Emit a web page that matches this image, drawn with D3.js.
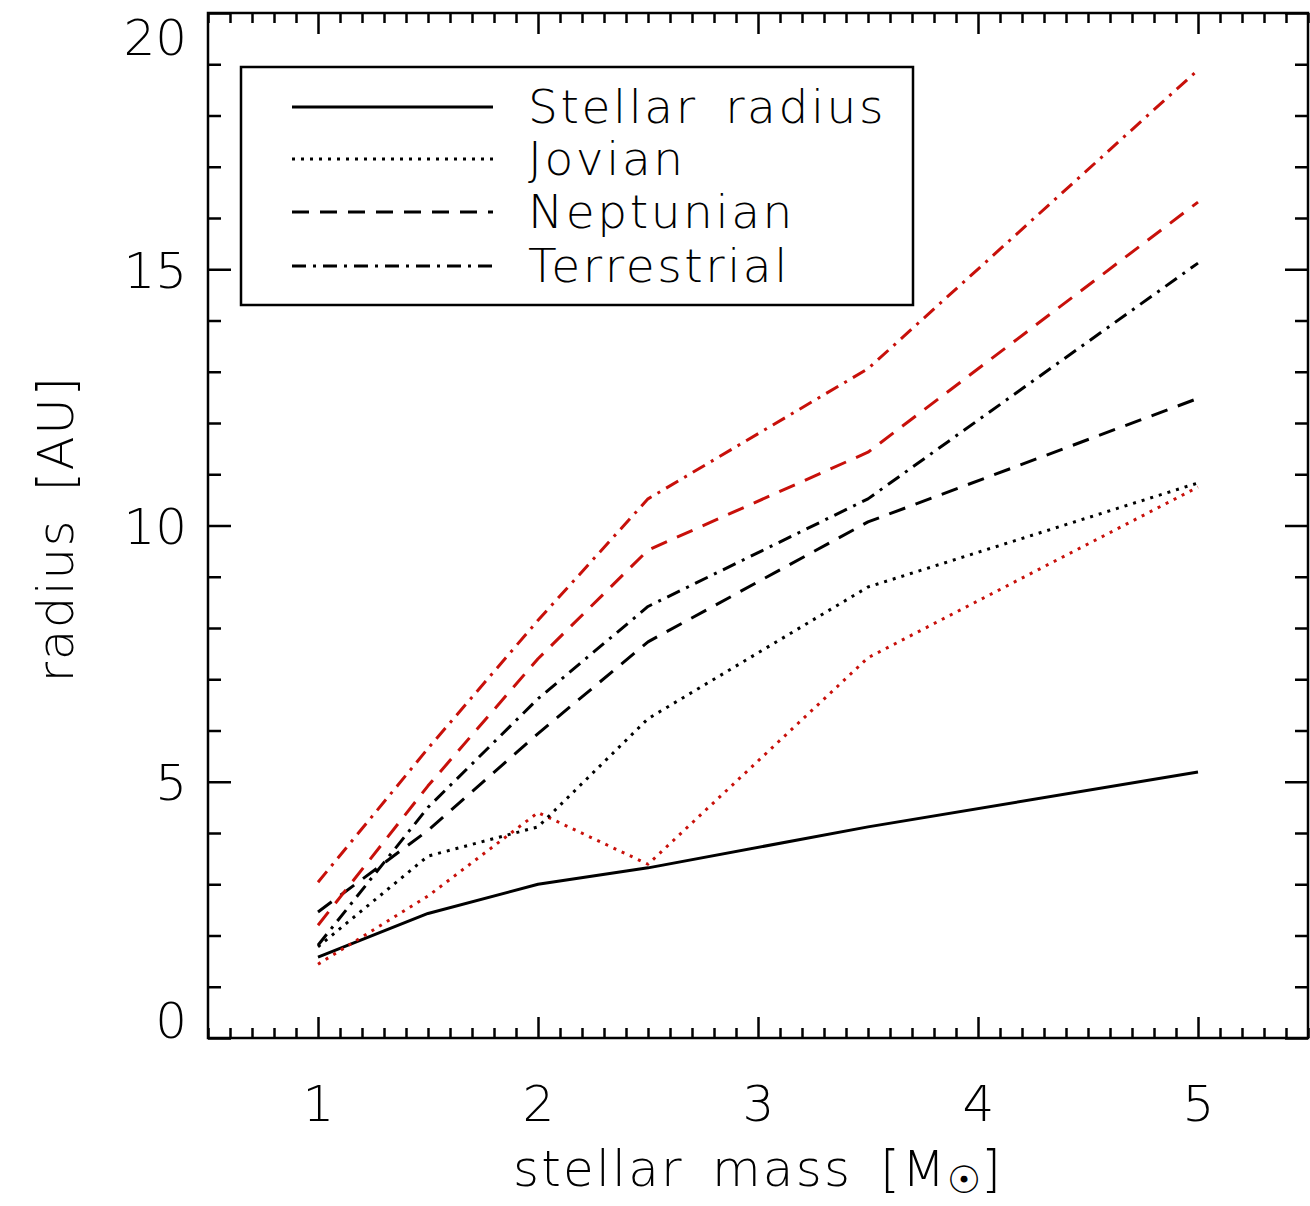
<!DOCTYPE html>
<html>
<head>
<meta charset="utf-8">
<script src="https://cdn.jsdelivr.net/npm/d3@7"></script>
<style>
  html, body { margin: 0; padding: 0; background: #fff; }
  svg { display: block; }
  text { font-family: "DejaVu Sans", sans-serif; font-weight: 200; fill: #000; }
</style>
</head>
<body>
<svg id="chart" width="1310" height="1206"></svg>
<script>
// Stellar mass grid [M_sun]
const mass = [1, 1.5, 2, 2.5, 3.5, 5];

// Radii [AU] per stellar mass
const stellarRadius    = [1.58, 2.43, 3.00, 3.32, 4.12, 5.19];
const jovianBlack      = [1.78, 3.55, 4.12, 6.23, 8.80, 10.83];
const jovianRed        = [1.44, 2.77, 4.40, 3.39, 7.42, 10.75];
const neptunianBlack   = [2.46, 4.05, 5.94, 7.73, 10.07, 12.48];
const neptunianRed     = [2.20, 4.92, 7.40, 9.52, 11.43, 16.31];
const terrestrialBlack = [1.81, 4.50, 6.62, 8.42, 10.52, 15.12];
const terrestrialRed   = [3.04, 5.65, 8.15, 10.52, 13.06, 18.89];

// Axis ticks
const xMajorTicks = [1, 2, 3, 4, 5];
const yMajorTicks = [0, 5, 10, 15, 20];

// Legend entries
const legendLabels = ["Stellar radius", "Jovian", "Neptunian", "Terrestrial"];

const RED = "#c8100a";
const dashStyles = {
  solid: null,
  dotted: "3,6",
  dashed: "17,11",
  dashdot: "14,7,3,7"
};

const svg = d3.select("#chart");
const plotLeft = 208, plotRight = 1308, plotTop = 13, plotBottom = 1038;

const x = d3.scaleLinear().domain([0.5, 5.5]).range([plotLeft, plotRight]);
const y = d3.scaleLinear().domain([0, 20]).range([plotBottom, plotTop]);

const xMinor = d3.range(5, 56).map(v => v / 10).filter(v => Math.abs(v - Math.round(v)) > 1e-6);
const yMinor = d3.range(0, 21).filter(v => v % 5 !== 0);

function styleAxis(g) {
  g.select(".domain").remove();
  g.selectAll(".tick line").attr("stroke", "#000").attr("stroke-width", 2.5);
}

// Bottom axis with labels
const gxB = svg.append("g").attr("transform", `translate(0,${plotBottom})`)
  .call(d3.axisBottom(x).tickValues(xMajorTicks).tickSizeInner(-21).tickSizeOuter(0)
    .tickPadding(47).tickFormat(d3.format("d")));
styleAxis(gxB);
gxB.selectAll("text").attr("font-size", 50).attr("font-family", "DejaVu Sans").attr("font-weight", 200);
svg.append("g").attr("transform", `translate(0,${plotBottom})`)
  .call(d3.axisBottom(x).tickValues(xMinor).tickSizeInner(-10).tickSizeOuter(0).tickFormat(""))
  .call(styleAxis);

// Top axis (ticks only)
svg.append("g").attr("transform", `translate(0,${plotTop})`)
  .call(d3.axisTop(x).tickValues(xMajorTicks).tickSizeInner(-21).tickSizeOuter(0).tickFormat(""))
  .call(styleAxis);
svg.append("g").attr("transform", `translate(0,${plotTop})`)
  .call(d3.axisTop(x).tickValues(xMinor).tickSizeInner(-10).tickSizeOuter(0).tickFormat(""))
  .call(styleAxis);

// Left axis with labels
const gyL = svg.append("g").attr("transform", `translate(${plotLeft},0)`)
  .call(d3.axisLeft(y).tickValues(yMajorTicks).tickSizeInner(-23).tickSizeOuter(0)
    .tickPadding(21).tickFormat(d3.format("d")));
styleAxis(gyL);
gyL.selectAll("text").attr("font-size", 50).attr("font-family", "DejaVu Sans").attr("font-weight", 200)
  .attr("dy", d => d === 0 ? "-0.02em" : d === 20 ? "0.82em" : "0.36em");
svg.append("g").attr("transform", `translate(${plotLeft},0)`)
  .call(d3.axisLeft(y).tickValues(yMinor).tickSizeInner(-13).tickSizeOuter(0).tickFormat(""))
  .call(styleAxis);

// Right axis (ticks only)
svg.append("g").attr("transform", `translate(${plotRight},0)`)
  .call(d3.axisRight(y).tickValues(yMajorTicks).tickSizeInner(-23).tickSizeOuter(0).tickFormat(""))
  .call(styleAxis);
svg.append("g").attr("transform", `translate(${plotRight},0)`)
  .call(d3.axisRight(y).tickValues(yMinor).tickSizeInner(-13).tickSizeOuter(0).tickFormat(""))
  .call(styleAxis);

// Plot frame
svg.append("rect")
  .attr("x", plotLeft).attr("y", plotTop)
  .attr("width", plotRight - plotLeft).attr("height", plotBottom - plotTop)
  .attr("fill", "none").attr("stroke", "#000").attr("stroke-width", 2.5);

// Curves
const line = d3.line().x(d => x(d[0])).y(d => y(d[1]));
const series = [
  { values: stellarRadius,    color: "#000", dash: dashStyles.solid },
  { values: jovianRed,        color: RED,    dash: dashStyles.dotted },
  { values: jovianBlack,      color: "#000", dash: dashStyles.dotted },
  { values: neptunianBlack,   color: "#000", dash: dashStyles.dashed },
  { values: neptunianRed,     color: RED,    dash: dashStyles.dashed },
  { values: terrestrialBlack, color: "#000", dash: dashStyles.dashdot },
  { values: terrestrialRed,   color: RED,    dash: dashStyles.dashdot }
];
svg.append("g").selectAll("path").data(series).join("path")
  .attr("d", s => line(mass.map((m, i) => [m, s.values[i]])))
  .attr("fill", "none")
  .attr("stroke", s => s.color)
  .attr("stroke-width", 3)
  .attr("stroke-dasharray", s => s.dash)
  .attr("stroke-linejoin", "round");

// Legend
const legend = svg.append("g");
legend.append("rect")
  .attr("x", 241).attr("y", 67).attr("width", 672).attr("height", 238)
  .attr("fill", "#fff").attr("stroke", "#000").attr("stroke-width", 2.5);
const legendDash = [dashStyles.solid, dashStyles.dotted, dashStyles.dashed, dashStyles.dashdot];
const legendRows = [107, 159, 212, 266];
legendLabels.forEach((label, i) => {
  legend.append("line")
    .attr("x1", 292).attr("x2", 493)
    .attr("y1", legendRows[i]).attr("y2", legendRows[i])
    .attr("stroke", "#000").attr("stroke-width", 3)
    .attr("stroke-dasharray", legendDash[i]);
  legend.append("text")
    .attr("x", 528).attr("y", legendRows[i] + 16)
    .attr("font-size", 47).attr("letter-spacing", 2.6)
    .attr("word-spacing", 10)
    .text(label);
});

// Axis titles
const xt = svg.append("text")
  .attr("x", x(3)).attr("y", 1186)
  .attr("text-anchor", "middle")
  .attr("font-size", 50).attr("letter-spacing", 2.2).attr("word-spacing", 10);
xt.append("tspan").text("stellar mass [M");
xt.append("tspan").attr("font-size", 38).attr("dy", 7).attr("letter-spacing", 0).text("☉");
xt.append("tspan").attr("dy", -7).text("]");

svg.append("text")
  .attr("transform", `translate(73,529) rotate(-90)`)
  .attr("text-anchor", "middle")
  .attr("font-size", 50).attr("letter-spacing", 1.5).attr("word-spacing", 10)
  .text("radius [AU]");
</script>
</body>
</html>
